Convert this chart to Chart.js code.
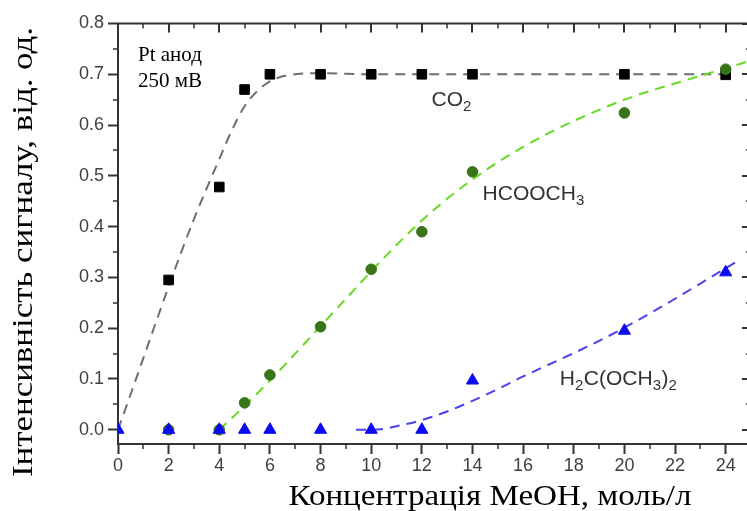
<!DOCTYPE html>
<html lang="uk">
<head>
<meta charset="utf-8">
<title>Інтенсивність сигналу продуктів окиснення метанолу</title>
<script src="https://cdn.jsdelivr.net/npm/chart.js@4.4.1/dist/chart.umd.min.js"></script>
<style>
  html, body { margin: 0; padding: 0; background: #fff; }
  #wrap { width: 747px; height: 511px; overflow: hidden; position: relative; }
  canvas { display: block; }
</style>
</head>
<body>
<div id="wrap"><canvas id="chart" width="760" height="511"></canvas></div>
<script>
// Measured signal intensity vs MeOH concentration (mol/L), Pt anode at 250 mV
const concCO2 = [2, 4, 5, 6, 8, 10, 12, 14, 20, 24];
const signalCO2 = [0.295, 0.478, 0.670, 0.700, 0.700, 0.700, 0.700, 0.700, 0.700, 0.699];

const concHCOOCH3 = [2, 4, 5, 6, 8, 10, 12, 14, 20, 24];
const signalHCOOCH3 = [0, 0, 0.053, 0.108, 0.203, 0.316, 0.390, 0.508, 0.624, 0.710];

const concMethylal = [0, 2, 4, 5, 6, 8, 10, 12, 14, 20, 24];
const signalMethylal = [0, 0, 0, 0, 0, 0, 0, 0, 0.097, 0.195, 0.310];

// Trend curves drawn through each series
const fitCO2X = [0, 0.5, 1, 1.5, 2, 2.5, 3, 3.5, 4, 4.5, 5, 5.5, 6, 6.5, 7, 7.5, 8, 9, 10, 12, 14, 16, 18, 20, 22, 24.2];
const fitCO2Y = [0, 0.070, 0.141, 0.212, 0.282, 0.350, 0.415, 0.475, 0.533, 0.590, 0.637, 0.667, 0.686, 0.696, 0.700, 0.702, 0.702, 0.701, 0.700, 0.700, 0.700, 0.700, 0.700, 0.700, 0.700, 0.700];

const fitHCOOCH3X = [4, 5, 6, 7, 8, 9, 10, 11, 12, 13, 14, 15, 16, 17, 18, 19, 20, 21, 22, 23, 24, 25];
const fitHCOOCH3Y = [0, 0.047, 0.097, 0.150, 0.204, 0.258, 0.312, 0.364, 0.412, 0.455, 0.493, 0.527, 0.557, 0.584, 0.608, 0.630, 0.650, 0.667, 0.682, 0.697, 0.712, 0.727];

const fitMethylalX = [9.4, 10, 10.5, 11, 12, 13, 14, 15, 16, 17, 18, 19, 20, 21, 22, 23, 24, 24.4];
const fitMethylalY = [0, 0, 0.002, 0.007, 0.019, 0.036, 0.057, 0.080, 0.105, 0.128, 0.151, 0.175, 0.201, 0.229, 0.258, 0.288, 0.318, 0.330];

// Axis ticks
const xTickValues = [0, 2, 4, 6, 8, 10, 12, 14, 16, 18, 20, 22, 24];
const xMinorValues = [1, 3, 5, 7, 9, 11, 13, 15, 17, 19, 21, 23];
const yTickValues = [0, 0.1, 0.2, 0.3, 0.4, 0.5, 0.6, 0.7, 0.8];
const yMinorValues = [0.05, 0.15, 0.25, 0.35, 0.45, 0.55, 0.65, 0.75];

// Texts
const xTitle = 'Концентрація МеОН, моль/л';
const yTitle = 'Інтенсивність сигналу, від. од.';
const noteLines = ['Pt анод', '250 мВ'];
const chemLabels = [
  [['CO', false], ['2', true]],
  [['HCOOCH', false], ['3', true]],
  [['H', false], ['2', true], ['C(OCH', false], ['3', true], [')', false], ['2', true]]
];

const toPoints = (xs, ys) => xs.map((x, i) => ({ x, y: ys[i] }));

const AXIS = '#333333';
const SANS = '"Liberation Sans", Arial, sans-serif';
const SERIF = '"Liberation Serif", "Times New Roman", serif';

// Frame on the top and right sides, minor ticks, and text annotations
const decorPlugin = {
  id: 'decor',
  afterDraw(chart, args, opts) {
    const { ctx, chartArea: a, scales: { x, y } } = chart;
    ctx.save();
    ctx.strokeStyle = AXIS;
    ctx.lineCap = 'butt';

    // top and right frame lines
    ctx.lineWidth = 2;
    ctx.beginPath();
    ctx.moveTo(a.left - 1, a.top);
    ctx.lineTo(a.right + 1, a.top);
    ctx.moveTo(a.right, a.top);
    ctx.lineTo(a.right, a.bottom);
    ctx.stroke();

    // top axis ticks (inward)
    ctx.beginPath();
    xTickValues.forEach(v => { const px = Math.round(x.getPixelForValue(v)); ctx.moveTo(px, a.top); ctx.lineTo(px, a.top + 9); });
    ctx.stroke();
    ctx.lineWidth = 1.5;
    ctx.beginPath();
    xMinorValues.forEach(v => { const px = Math.round(x.getPixelForValue(v)); ctx.moveTo(px, a.top); ctx.lineTo(px, a.top + 5); });
    // bottom minor ticks (outward)
    xMinorValues.forEach(v => { const px = Math.round(x.getPixelForValue(v)); ctx.moveTo(px, a.bottom); ctx.lineTo(px, a.bottom + 5); });
    // left minor ticks (outward)
    yMinorValues.forEach(v => { const py = Math.round(y.getPixelForValue(v)); ctx.moveTo(a.left, py); ctx.lineTo(a.left - 5, py); });
    // right minor ticks (inward)
    yMinorValues.forEach(v => { const py = Math.round(y.getPixelForValue(v)); ctx.moveTo(a.right, py); ctx.lineTo(a.right - 5, py); });
    ctx.stroke();
    // right major ticks (inward)
    ctx.lineWidth = 2;
    ctx.beginPath();
    yTickValues.forEach(v => { const py = Math.round(y.getPixelForValue(v)); ctx.moveTo(a.right, py); ctx.lineTo(a.right - 9, py); });
    ctx.stroke();

    // note in the upper-left corner
    ctx.fillStyle = '#000';
    ctx.font = '21px ' + SERIF;
    ctx.textAlign = 'left';
    ctx.textBaseline = 'alphabetic';
    opts.note.forEach((n, i) => {
      ctx.fillText(noteLines[i], x.getPixelForValue(n[0]), y.getPixelForValue(n[1]));
    });

    // series labels with subscripts
    ctx.fillStyle = '#333';
    opts.chem.forEach((pos, i) => {
      let cx = x.getPixelForValue(pos[0]);
      const by = y.getPixelForValue(pos[1]);
      chemLabels[i].forEach(([t, sub]) => {
        ctx.font = (sub ? 15 : 21) + 'px ' + SANS;
        ctx.fillText(t, cx, sub ? by + 5 : by);
        cx += ctx.measureText(t).width + (sub ? 0.5 : 0);
      });
    });

    // axis titles
    ctx.fillStyle = '#000';
    ctx.textAlign = 'center';
    const stretched = (text, cx, cy, width, size, rotate) => {
      ctx.save();
      ctx.font = size + 'px ' + SERIF;
      const w = ctx.measureText(text).width;
      ctx.translate(cx, cy);
      if (rotate) ctx.rotate(-Math.PI / 2);
      ctx.scale(width / w, 1);
      ctx.fillText(text, 0, 0);
      ctx.restore();
    };
    stretched(xTitle, opts.xTitle.cx, opts.xTitle.cy, opts.xTitle.w, 29, false);
    stretched(yTitle, opts.yTitle.cx, opts.yTitle.cy, opts.yTitle.w, 29, true);
    ctx.restore();
  }
};

const lineStyle = (color) => ({
  type: 'line',
  borderColor: color,
  borderWidth: 2,
  borderDash: [10, 7],
  pointRadius: 0,
  fill: false,
  cubicInterpolationMode: 'monotone',
  clip: 0
});

new Chart(document.getElementById('chart'), {
  type: 'scatter',
  data: {
    datasets: [
      {
        label: 'H2C(OCH3)2',
        data: toPoints(concMethylal, signalMethylal),
        pointStyle: 'triangle', pointRadius: 7,
        backgroundColor: '#0a0af5', borderColor: '#0a0af5', pointBorderWidth: 1,
        order: 0, clip: 0
      },
      {
        label: 'HCOOCH3',
        data: toPoints(concHCOOCH3, signalHCOOCH3),
        pointStyle: 'circle', pointRadius: 5.3,
        backgroundColor: '#3a7418', borderColor: '#3a7418', pointBorderWidth: 1,
        order: 1, clip: 0
      },
      {
        label: 'CO2',
        data: toPoints(concCO2, signalCO2),
        pointStyle: 'rect', pointRadius: 6.8,
        backgroundColor: '#000', borderColor: '#000', pointBorderWidth: 1,
        order: 2, clip: 0
      },
      Object.assign({ label: 'H2C(OCH3)2 fit', data: toPoints(fitMethylalX, fitMethylalY), order: 3 }, lineStyle('#4a42ee')),
      Object.assign({ label: 'HCOOCH3 fit', data: toPoints(fitHCOOCH3X, fitHCOOCH3Y), order: 4 }, lineStyle('#66d922')),
      Object.assign({ label: 'CO2 fit', data: toPoints(fitCO2X, fitCO2Y), order: 5 }, lineStyle('#6e6e6e'))
    ]
  },
  options: {
    responsive: false,
    devicePixelRatio: 1,
    animation: false,
    events: [],
    layout: { padding: { left: 0, top: 23.5, right: 9, bottom: 0 } },
    plugins: {
      legend: { display: false },
      tooltip: { enabled: false },
      decor: {
        note: [[0.79, 0.726], [0.79, 0.674]],
        chem: [[12.38, 0.638], [14.40, 0.453], [17.45, 0.0886]],
        xTitle: { cx: 490, cy: 505, w: 403 },
        yTitle: { cx: 32, cy: 252, w: 450 }
      }
    },
    scales: {
      x: {
        type: 'linear',
        min: 0, max: 25,
        afterBuildTicks: s => { s.ticks = xTickValues.map(v => ({ value: v })); },
        afterFit: s => { s.height = 67; },
        ticks: { callback: v => String(v), font: { family: SANS, size: 18 }, color: '#404040', padding: 1, maxRotation: 0, autoSkip: false },
        grid: { drawOnChartArea: false, drawTicks: true, tickLength: 10, tickColor: AXIS, tickWidth: 2 },
        border: { color: AXIS, width: 2 }
      },
      y: {
        type: 'linear',
        min: -0.028, max: 0.8,
        afterBuildTicks: s => { s.ticks = yTickValues.map(v => ({ value: v })); },
        afterFit: s => { s.width = 118; },
        ticks: { callback: v => v.toFixed(1), font: { family: SANS, size: 18 }, color: '#404040', padding: 4, autoSkip: false },
        grid: { drawOnChartArea: false, drawTicks: true, tickLength: 10, tickColor: AXIS, tickWidth: 2 },
        border: { color: AXIS, width: 2 }
      }
    }
  },
  plugins: [decorPlugin]
});
</script>
</body>
</html>
